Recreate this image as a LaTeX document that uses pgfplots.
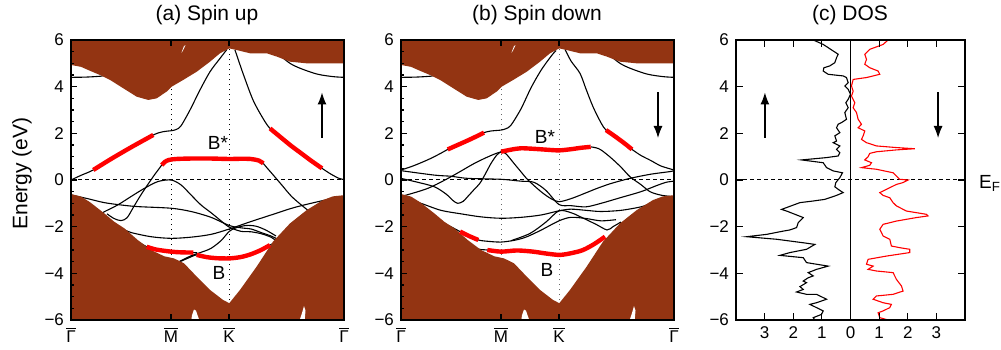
\documentclass[border=0pt]{standalone}
\usepackage{fontspec}
\setmainfont{Liberation Sans}
\usepackage{pgfplots}
\pgfplotsset{compat=1.18}
\usetikzlibrary{arrows.meta}
\definecolor{bulk}{RGB}{147,52,18}

\begin{document}
\begin{tikzpicture}
\useasboundingbox (0,0) rectangle (500.5pt,174.5pt);
\pgfplotsset{
  common/.style={
    scale only axis, height=140pt, ymin=-6, ymax=6,
    axis on top,
    axis line style={line width=1.25pt},
    ytick={-6,-4,...,6},
    yticklabels={−6,−4,−2,0,2,4,6},
    tick style={black, line width=0.6pt},
    major tick length=3pt, minor tick length=1.6pt,
    tick align=inside,
    tick label style={font=\fontsize{8.5}{10}\selectfont},
  },
  bandax/.style={
    common, width=136.5pt, xmin=0, xmax=2.73,
    xtick={0,1,1.58,2.73},
    xticklabels={$\overline{\mbox{Γ}}$,$\overline{\mbox{M}}$,$\overline{\mbox{K}}$,$\overline{\mbox{Γ}}$},
    minor y tick num=3, ytick pos=left, xtick pos=both,
  },
  bl/.style={black, line width=0.55pt, smooth, tension=0.5},
  rd/.style={red, line width=2.2pt, smooth, tension=0.5},
  sym/.style={black, line width=0.5pt, dotted},
}
\newcommand{\bulkregions}{%
  \addplot[fill=bulk, draw=none] coordinates {(-0.05,6.3)(-0.05,4.93)(0,4.93)(0.1,4.85)(0.19,4.68)(0.29,4.5)(0.39,4.29)(0.523,3.93)(0.657,3.57)(0.773,3.43)(0.857,3.5)(0.957,3.79)(1.007,4.0)(1.123,4.29)(1.257,4.64)(1.39,5.07)(1.49,5.43)(1.583,5.64)(1.657,5.57)(1.79,5.43)(1.957,5.43)(2.057,5.29)(2.19,5.07)(2.357,5.0)(2.523,5.0)(2.8,5.0)(2.8,6.3)} --cycle;
  \addplot[fill=bulk, draw=none] coordinates {(-0.05,-6.3)(-0.05,-0.6)(0,-0.6)(0.1,-0.71)(0.19,-0.95)(0.333,-1.43)(0.433,-1.79)(0.533,-2.07)(0.667,-2.57)(0.8,-3.0)(0.933,-3.27)(1.03,-3.36)(1.13,-3.57)(1.257,-4.14)(1.39,-4.71)(1.52,-5.14)(1.583,-5.28)(1.69,-4.71)(1.857,-3.71)(2.02,-2.64)(2.19,-1.86)(2.357,-1.29)(2.52,-0.86)(2.62,-0.7)(2.8,-0.62)(2.8,-6.3)} --cycle;
  \addplot[fill=white, draw=none] coordinates {(1.2,-6.1)(1.21,-5.8)(1.23,-5.55)(1.25,-5.6)(1.27,-5.85)(1.29,-6.1)} --cycle;
  \addplot[fill=white, draw=none] coordinates {(2.28,-6.1)(2.31,-5.7)(2.33,-5.4)(2.345,-5.6)(2.335,-6.1)} --cycle;
  \addplot[fill=white, draw=none] coordinates {(1.105,5.45)(1.12,5.55)(1.145,5.78)(1.13,5.74)(1.11,5.52)} --cycle;
}

% ================= (a) Spin up =================
\begin{axis}[bandax, at={(35.5pt,14.5pt)}, anchor=south west]
\addplot[sym] coordinates {(1,-6)(1,6)};
\addplot[sym] coordinates {(1.58,-6)(1.58,6)};
\addplot[black, line width=0.5pt, dash pattern=on 2pt off 1.5pt] coordinates {(0,0)(2.73,0)};
% bands
\addplot[bl] coordinates {(0,0.0)(0.1,0.2)(0.223,0.43)(0.4,0.9)(0.6,1.4)(0.823,1.93)(0.92,2.07)(1.0,2.11)(1.05,2.16)(1.1,2.32)(1.19,3.0)(1.29,3.86)(1.39,4.64)(1.49,5.21)(1.56,5.6)};
\addplot[bl] coordinates {(1.64,5.57)(1.72,4.57)(1.82,3.43)(1.92,2.64)(1.99,2.21)(2.1,1.82)(2.2,1.47)(2.3,1.15)(2.4,0.83)(2.51,0.5)(2.6,0.25)(2.68,0.07)(2.73,0.02)};
\addplot[bl] coordinates {(0,4.4)(0.15,4.41)(0.3,4.45)(0.35,4.5)};
\addplot[bl] coordinates {(2.1,5.3)(2.19,5.0)(2.29,4.79)(2.46,4.54)(2.62,4.43)(2.73,4.4)};
\addplot[bl] coordinates {(0.36,-1.45)(0.43,-1.65)(0.5,-1.74)(0.56,-1.62)(0.62,-1.2)(0.667,-0.86)(0.72,-0.5)(0.767,-0.2)(0.833,0.21)(0.88,0.48)(0.907,0.64)};
\addplot[bl] coordinates {(1.923,0.71)(1.96,0.52)(2.007,0.29)(2.107,-0.21)(2.207,-0.71)(2.323,-1.14)(2.4,-1.4)};
\addplot[bl] coordinates {(0.3,-1.45)(0.333,-1.36)(0.467,-1.07)(0.6,-0.71)(0.733,-0.36)(0.867,-0.07)(1.0,0.0)(1.1,-0.21)(1.2,-0.64)(1.3,-1.07)(1.4,-1.4)(1.5,-1.75)(1.583,-2.02)(1.7,-2.2)(1.8,-2.22)(1.9,-2.3)(2.0,-2.45)(2.05,-2.6)};
\addplot[bl] coordinates {(0,-0.64)(0.167,-0.8)(0.333,-0.97)(0.5,-1.07)(0.667,-1.14)(1.0,-1.21)(1.2,-1.35)(1.4,-1.6)(1.583,-1.95)(1.7,-2.05)(1.8,-2.1)(1.9,-2.25)(2.0,-2.4)(2.05,-2.5)};
\addplot[bl] coordinates {(0.45,-2.0)(0.52,-2.1)(0.6,-2.25)(0.8,-2.43)(1.0,-2.5)(1.2,-2.45)(1.4,-2.33)(1.583,-2.1)(1.8,-1.78)(2.0,-1.5)(2.2,-1.22)(2.35,-1.05)(2.5,-0.9)(2.6,-0.8)};
\addplot[bl] coordinates {(0.5,-2.05)(0.6,-2.45)(0.7,-2.72)(0.757,-2.86)(0.85,-2.98)(1.0,-3.07)(1.1,-3.1)(1.223,-3.11)(1.26,-3.12)};
\addplot[bl] coordinates {(1.09,-3.5)(1.17,-3.35)(1.257,-3.21)(1.35,-3.3)(1.45,-3.35)(1.583,-3.36)(1.7,-3.3)(1.8,-3.18)(1.9,-3.0)(1.99,-2.79)(2.03,-2.7)(2.06,-2.6)};
\addplot[bl] coordinates {(1.08,-3.5)(1.2,-3.25)(1.3,-3.1)(1.4,-2.93)(1.5,-2.6)(1.583,-2.2)(1.65,-2.05)(1.75,-1.95)(1.85,-1.98)(1.95,-2.15)(2.05,-2.4)};
\bulkregions
% red segments
\addplot[rd] coordinates {(0.223,0.43)(0.4,0.9)(0.6,1.4)(0.823,1.93)};
\addplot[rd] coordinates {(1.99,2.21)(2.1,1.82)(2.2,1.47)(2.3,1.15)(2.4,0.83)(2.51,0.5)};
\addplot[rd] coordinates {(0.907,0.64)(0.94,0.78)(0.98,0.86)(1.05,0.9)(1.2,0.92)(1.4,0.92)(1.583,0.9)(1.7,0.91)(1.8,0.9)(1.88,0.83)(1.923,0.71)};
\addplot[rd] coordinates {(0.757,-2.86)(0.85,-2.98)(1.0,-3.07)(1.1,-3.1)(1.223,-3.11)};
\addplot[rd] coordinates {(1.257,-3.21)(1.35,-3.3)(1.45,-3.35)(1.583,-3.36)(1.7,-3.3)(1.8,-3.18)(1.9,-3.0)(1.99,-2.79)};
\node[font=\fontsize{9.5}{11}\selectfont] at (axis cs:1.47,1.57) {B*};
\node[font=\fontsize{9.5}{11}\selectfont] at (axis cs:1.48,-4.0) {B};
\draw[-{Latex[length=6pt,width=4.5pt]}, line width=0.6pt] (axis cs:2.51,1.8) -- (axis cs:2.51,3.75);
\end{axis}

% ================= (b) Spin down =================
\begin{axis}[bandax, at={(200.5pt,14.5pt)}, anchor=south west]
\addplot[sym, black!60] coordinates {(1,-6)(1,6)};
\addplot[sym, black!60] coordinates {(1.58,-6)(1.58,6)};
\addplot[black, line width=0.5pt, dash pattern=on 2pt off 1.5pt] coordinates {(0,0)(2.73,0)};
\addplot[bl] coordinates {(0,0.43)(0.1,0.57)(0.2,0.74)(0.3,0.93)(0.4,1.15)(0.467,1.31)(0.55,1.47)(0.65,1.66)(0.75,1.86)(0.83,2.03)(0.9,2.1)(1.0,2.14)(1.05,2.2)(1.1,2.35)(1.2,3.05)(1.3,3.95)(1.4,4.7)(1.5,5.3)(1.55,5.55)};
\addplot[bl] coordinates {(1.64,5.6)(1.7,5.1)(1.79,4.57)(1.85,3.9)(1.92,3.14)(2.0,2.45)(2.05,2.14)(2.15,1.84)(2.25,1.52)(2.31,1.31)(2.4,1.05)(2.5,0.83)(2.6,0.6)(2.73,0.43)};
\addplot[bl] coordinates {(0,4.4)(0.15,4.41)(0.3,4.45)(0.35,4.5)};
\addplot[bl] coordinates {(2.1,5.3)(2.19,5.0)(2.29,4.79)(2.46,4.54)(2.62,4.43)(2.73,4.4)};
\addplot[bl] coordinates {(0,0.07)(0.15,-0.08)(0.333,-0.29)(0.45,-0.6)(0.52,-0.88)(0.567,-1.0)(0.62,-0.92)(0.667,-0.71)(0.733,-0.4)(0.8,-0.07)(0.9,0.71)(0.96,1.08)(1.0,1.21)};
\addplot[bl] coordinates {(1.897,1.42)(1.95,1.38)(2.0,1.29)(2.1,0.95)(2.2,0.55)(2.29,0.14)(2.4,-0.2)(2.49,-0.5)(2.6,-0.65)(2.73,-0.72)};
\addplot[bl] coordinates {(0,-0.71)(0.267,-0.36)(0.5,0.14)(0.733,0.71)(0.9,1.05)(1.0,1.2)(1.05,1.12)(1.13,0.71)(1.2,0.35)(1.27,0.0)(1.4,-0.5)(1.5,-0.8)(1.58,-0.93)(1.7,-0.8)(1.85,-0.55)(1.96,-0.36)(2.1,-0.15)(2.29,0.07)(2.5,0.25)(2.69,0.36)(2.73,0.4)};
\addplot[bl] coordinates {(0,0.4)(0.333,0.21)(0.5,0.16)(0.667,0.07)(1.0,0.03)(1.2,-0.05)(1.33,-0.1)(1.45,-0.45)(1.58,-1.05)(1.7,-1.1)(1.85,-1.15)(2.0,-1.0)(2.2,-0.75)(2.4,-0.5)(2.55,-0.25)(2.65,-0.1)(2.73,-0.05)};
\addplot[bl] coordinates {(0,-0.72)(0.2,-1.0)(0.4,-1.3)(0.6,-1.45)(0.8,-1.58)(1.0,-1.64)(1.2,-1.6)(1.4,-1.5)(1.58,-1.32)(1.7,-1.25)(1.85,-1.3)(2.0,-1.35)(2.2,-1.3)(2.4,-1.15)(2.5,-1.0)};
\addplot[bl] coordinates {(1.1,-2.6)(1.29,-2.29)(1.45,-1.8)(1.58,-1.32)(1.7,-1.4)(1.79,-1.57)(1.95,-1.9)(2.06,-2.14)(2.12,-2.0)(2.2,-1.8)};
\addplot[bl] coordinates {(0.45,-1.9)(0.52,-2.05)(0.59,-2.21)(0.68,-2.4)(0.773,-2.57)(0.85,-2.62)(1.0,-2.66)(1.15,-2.57)(1.26,-2.43)(1.4,-2.15)(1.58,-1.75)(1.7,-1.6)(1.85,-1.65)(2.0,-1.75)(2.15,-1.7)};
\addplot[bl] coordinates {(0.7,-2.9)(0.8,-2.98)(0.863,-3.0)(1.0,-3.07)(1.16,-3.02)(1.32,-3.07)(1.45,-3.15)(1.59,-3.21)(1.72,-3.12)(1.82,-3.0)(1.93,-2.75)(2.04,-2.43)};
\bulkregions
\addplot[rd] coordinates {(0.467,1.31)(0.55,1.47)(0.65,1.66)(0.75,1.86)(0.83,2.03)};
\addplot[rd] coordinates {(2.05,2.14)(2.15,1.84)(2.25,1.52)(2.31,1.31)};
\addplot[rd] coordinates {(1.0,1.21)(1.1,1.3)(1.2,1.36)(1.35,1.33)(1.45,1.3)(1.58,1.27)(1.7,1.32)(1.8,1.38)(1.897,1.42)};
\addplot[rd] coordinates {(0.59,-2.21)(0.68,-2.4)(0.773,-2.57)};
\addplot[rd] coordinates {(0.863,-3.0)(1.0,-3.07)(1.16,-3.02)(1.32,-3.07)(1.45,-3.15)(1.59,-3.21)(1.72,-3.12)(1.82,-3.0)(1.93,-2.75)(2.04,-2.43)};
\node[font=\fontsize{9.5}{11}\selectfont] at (axis cs:1.44,1.86) {B*};
\node[font=\fontsize{9.5}{11}\selectfont] at (axis cs:1.46,-3.86) {B};
\draw[-{Latex[length=6pt,width=4.5pt]}, line width=0.6pt] (axis cs:2.57,3.75) -- (axis cs:2.57,1.8);
\end{axis}

% ================= (c) DOS =================
\begin{axis}[common, width=114.5pt, at={(368pt,14.5pt)}, anchor=south west,
  xmin=-4, xmax=4, xtick={-3,...,3}, xticklabels={3,2,1,0,1,2,3}, tick pos=both,
  major tick length=3.5pt]
\addplot[black, line width=0.5pt, dash pattern=on 2pt off 1.5pt] coordinates {(-4,0)(4,0)};
\addplot[black, line width=0.6pt] coordinates {(0,-6)(0,6)};
\addplot[black, line width=0.55pt] coordinates {
(-1.30,6.0)(-0.953,5.81)(-0.605,5.53)(-0.430,5.39)(-0.488,5.24)(-0.547,5.03)(-0.721,4.89)(-0.930,4.81)(-0.953,4.67)(-0.779,4.53)(-0.256,4.46)(-0.140,4.39)(-0.081,4.17)(-0.198,4.03)(-0.081,3.89)(0.0,3.67)(-0.081,3.46)(-0.163,3.31)(-0.081,3.10)(-0.198,2.89)(-0.140,2.60)(-0.314,2.46)(-0.430,2.39)(-0.488,2.24)(-0.372,2.03)(-0.547,1.89)(-0.488,1.67)(-0.605,1.60)(-0.372,1.46)(-0.488,1.31)(-0.372,1.17)(-0.430,1.03)(-0.837,0.96)(-1.709,0.86)(-0.953,0.74)(-0.837,0.53)(-0.605,0.39)(-0.279,0.31)(-0.372,0.10)(-0.512,-0.11)(-0.547,-0.29)(-0.430,-0.40)(-0.256,-0.54)(-0.488,-0.66)(-0.895,-0.83)(-1.302,-0.90)(-1.767,-0.97)(-2.407,-1.26)(-2.233,-1.33)(-1.942,-1.47)(-1.651,-1.61)(-1.826,-1.83)(-1.884,-2.04)(-2.116,-2.14)(-2.349,-2.19)(-2.930,-2.33)(-3.628,-2.43)(-2.581,-2.54)(-1.651,-2.69)(-1.244,-2.76)(-1.535,-2.97)(-2.116,-3.11)(-2.465,-3.23)(-1.651,-3.33)(-1.535,-3.54)(-1.186,-3.61)(-0.779,-3.69)(-1.186,-3.83)(-1.477,-3.97)(-1.302,-4.11)(-1.477,-4.19)(-1.651,-4.33)(-1.535,-4.40)(-1.767,-4.57)(-1.651,-4.69)(-1.884,-4.80)(-1.535,-4.90)(-1.186,-4.90)(-0.837,-5.11)(-1.186,-5.26)(-1.419,-5.33)(-1.186,-5.47)(-0.953,-5.61)(-1.012,-5.76)(-1.302,-5.90)(-1.244,-6.0)};
\addplot[red, line width=0.55pt] coordinates {
(1.314,6.0)(1.140,5.81)(0.674,5.60)(0.500,5.39)(0.558,5.17)(0.500,4.96)(0.674,4.81)(0.965,4.67)(1.023,4.53)(0.558,4.39)(0.093,4.31)(0.035,4.03)(0.093,3.81)(0.035,3.60)(0.151,3.31)(0.093,3.10)(0.209,2.89)(0.267,2.60)(0.384,2.39)(0.267,2.24)(0.500,2.10)(0.442,1.89)(0.384,1.74)(0.558,1.60)(0.907,1.46)(1.605,1.39)(2.244,1.34)(1.605,1.29)(0.907,1.21)(0.674,1.14)(0.616,1.00)(0.500,0.86)(0.733,0.74)(0.674,0.63)(0.384,0.53)(0.907,0.46)(1.488,0.31)(1.721,0.03)(2.012,0.0)(1.837,-0.11)(1.605,-0.19)(1.372,-0.33)(1.023,-0.54)(1.140,-0.66)(1.372,-0.76)(1.488,-0.97)(1.605,-1.11)(1.953,-1.33)(2.651,-1.47)(2.709,-1.54)(2.302,-1.61)(1.605,-1.76)(1.140,-1.90)(1.023,-2.11)(1.140,-2.40)(1.372,-2.54)(1.430,-2.83)(1.721,-2.90)(2.070,-2.97)(2.070,-3.11)(1.256,-3.26)(0.616,-3.40)(0.558,-3.61)(0.791,-3.69)(0.616,-3.83)(0.907,-3.90)(1.488,-3.97)(1.605,-4.26)(1.779,-4.54)(1.837,-4.76)(1.488,-4.90)(0.907,-4.97)(0.791,-5.11)(1.140,-5.26)(1.430,-5.33)(1.372,-5.47)(1.140,-5.61)(0.965,-5.69)(1.023,-5.90)(1.314,-6.0)};
\draw[-{Latex[length=6pt,width=4.5pt]}, line width=0.6pt] (axis cs:-2.99,1.8) -- (axis cs:-2.99,3.75);
\draw[-{Latex[length=6pt,width=4.5pt]}, line width=0.6pt] (axis cs:3.06,3.75) -- (axis cs:3.06,1.8);
\end{axis}

% titles and labels
\node[font=\fontsize{10.5}{12}\selectfont] at (103.5pt,167pt) {(a) Spin up};
\node[font=\fontsize{10.5}{12}\selectfont] at (268.5pt,167pt) {(b) Spin down};
\node[font=\fontsize{10.5}{12}\selectfont] at (425pt,167pt) {(c) DOS};
\node[font=\fontsize{10.5}{12}\selectfont, rotate=90] at (11pt,87.75pt) {Energy (eV)};
\node[font=\fontsize{9.5}{11}\selectfont] at (495pt,83pt) {E\textsubscript{F}};
\end{tikzpicture}
\end{document}
